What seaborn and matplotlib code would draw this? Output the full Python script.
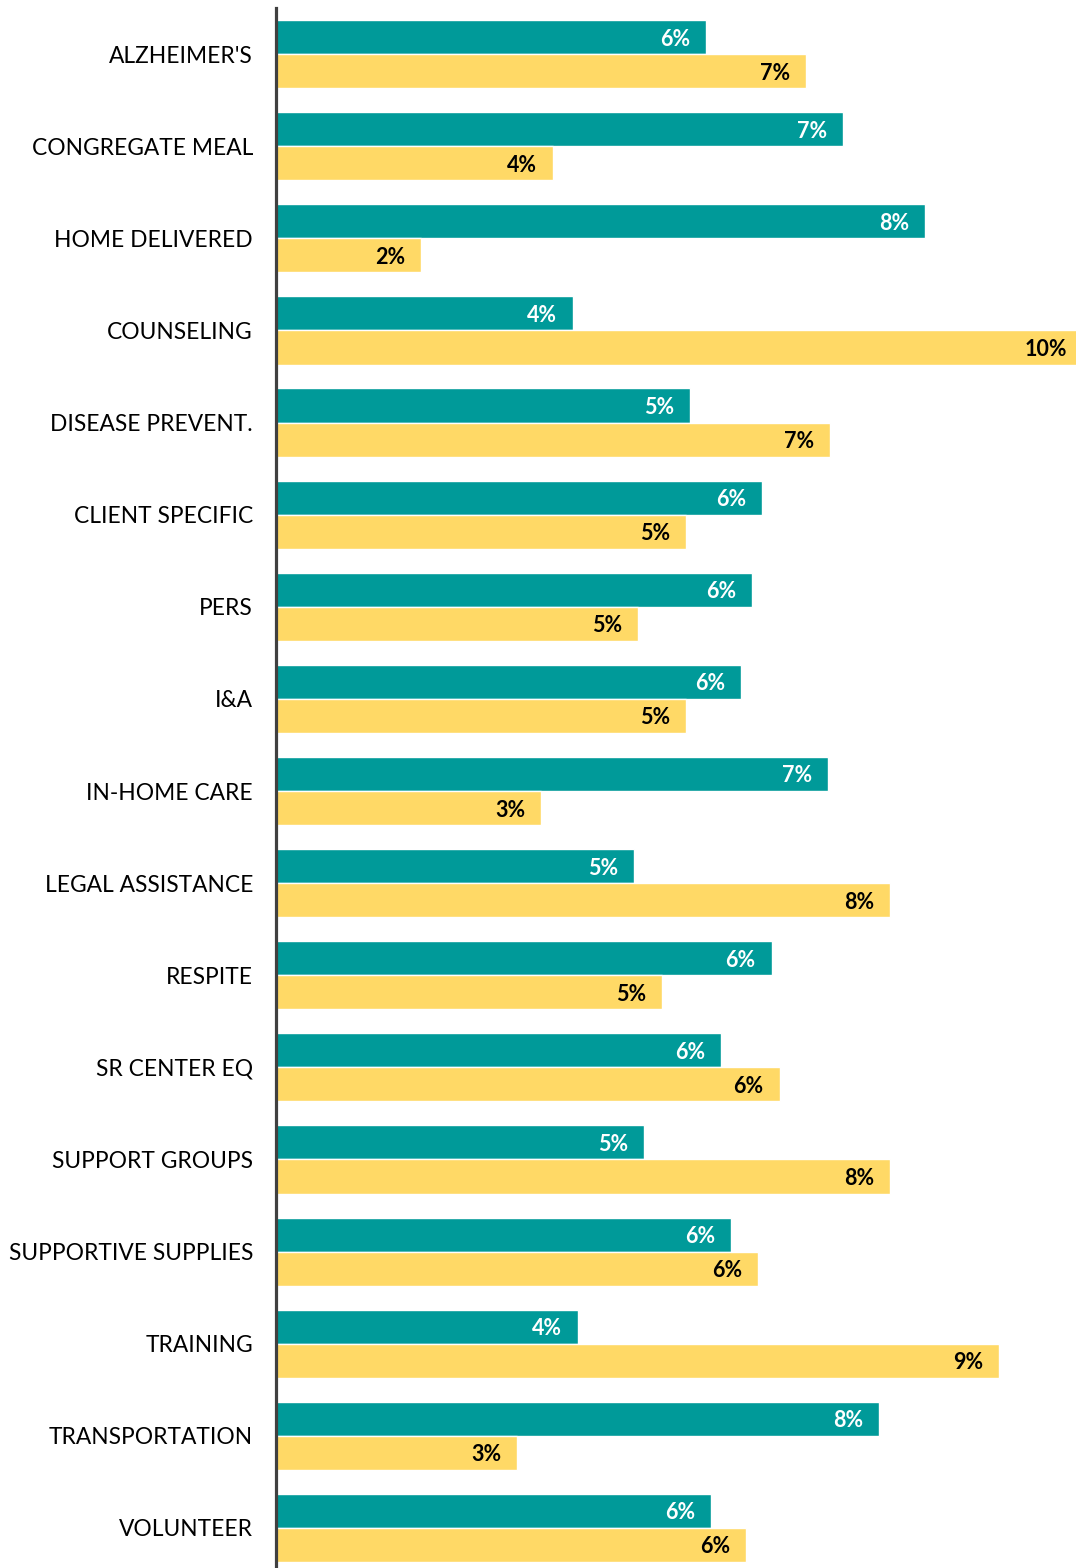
import numpy as np
import pandas as pd
import matplotlib
matplotlib.use("Agg")
import matplotlib.pyplot as plt
import seaborn as sns

# Service categories, top to bottom
services = [
    "ALZHEIMER'S", "CONGREGATE MEAL", "HOME DELIVERED", "COUNSELING",
    "DISEASE PREVENT.", "CLIENT SPECIFIC", "PERS", "I&A", "IN-HOME CARE",
    "LEGAL ASSISTANCE", "RESPITE", "SR CENTER EQ", "SUPPORT GROUPS",
    "SUPPORTIVE SUPPLIES", "TRAINING", "TRANSPORTATION", "VOLUNTEER",
]

# Percent shares for the two series
first_share = [5.52, 7.25, 8.29, 3.84, 5.32, 6.23, 6.10, 5.96, 7.06,
               4.61, 6.35, 5.71, 4.73, 5.84, 3.90, 7.71, 5.58]
second_share = [6.78, 3.58, 1.91, 10.29, 7.09, 5.27, 4.66, 5.27, 3.43,
                7.85, 4.96, 6.45, 7.85, 6.18, 9.23, 3.13, 6.03]

series_names = ["First", "Second"]
TEAL = "#009A99"
YELLOW = "#FFD966"

df = pd.DataFrame({
    "service": services * 2,
    "pct": first_share + second_share,
    "series": [series_names[0]] * len(services) + [series_names[1]] * len(services),
})

sns.set_theme(style="white")
plt.rcParams["font.family"] = ["Lato", "DejaVu Sans"]

fig = plt.figure(figsize=(10.76, 15.68), dpi=100)
ax = fig.add_axes([0.25697, -0.00383, 0.74303, 0.99872])

sns.barplot(
    data=df, y="service", x="pct", hue="series", orient="h",
    palette=[TEAL, YELLOW], saturation=1, width=0.74,
    edgecolor="white", linewidth=1.0,
    legend=False, ax=ax, order=services, hue_order=series_names,
)

ax.set_xlim(0.082, 10.2025)
ax.set_ylim(len(services) - 0.5, -0.5)
ax.set_xlabel("")
ax.set_ylabel("")
ax.set_xticks([])

for side in ["top", "right", "bottom"]:
    ax.spines[side].set_visible(False)
ax.spines["left"].set_color("#404040")
ax.spines["left"].set_linewidth(2.3)

ax.tick_params(axis="y", length=0, pad=17, labelsize=16.4, labelcolor="black")

# Value labels inside the bar ends
label_colors = ["white", "black"]
for container, color in zip(ax.containers, label_colors):
    for patch in container.patches:
        val = patch.get_width()
        yc = patch.get_y() + patch.get_height() / 2
        ax.annotate(
            f"{val:.0f}%", xy=(val, yc), xytext=(-16, -2),
            textcoords="offset pixels", ha="right", va="center",
            fontsize=15.5, fontweight="bold", color=color,
            annotation_clip=False,
        )

fig.savefig("out.png", dpi=100)
